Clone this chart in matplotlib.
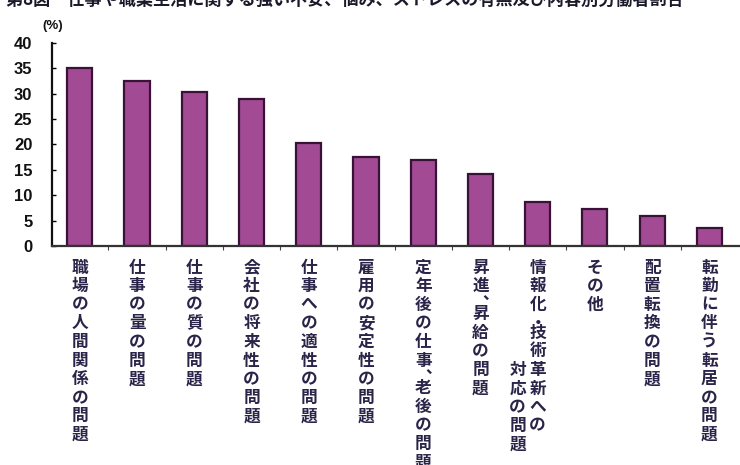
import matplotlib
matplotlib.use("Agg")
import matplotlib.pyplot as plt
import matplotlib.transforms as mtransforms

plt.rcParams['font.family'] = ['Noto Sans CJK JP', 'DejaVu Sans']

# data
categories = [
    ["職場の人間関係の問題"],
    ["仕事の量の問題"],
    ["仕事の質の問題"],
    ["会社の将来性の問題"],
    ["仕事への適性の問題"],
    ["雇用の安定性の問題"],
    ["定年後の仕事︑老後の問題"],
    ["昇進︑昇給の問題"],
    ["情報化・技術革新への", "対応の問題"],
    ["その他"],
    ["配置転換の問題"],
    ["転勤に伴う転居の問題"],
]
values = [35.1, 32.5, 30.4, 28.9, 20.2, 17.6, 16.9, 14.1, 8.6, 7.2, 5.9, 3.6]
yticks = [0, 5, 10, 15, 20, 25, 30, 35, 40]
title = "第8図　仕事や職業生活に関する強い不安、悩み、ストレスの有無及び内容別労働者割合"

bar_color = "#a24b94"
edge_color = "#3a1238"
text_color = "#2a2448"

fig = plt.figure(figsize=(7.4, 4.65), dpi=100)
ax = fig.add_axes([0.070, 0.471, 0.935, 0.437])

x = list(range(len(values)))
ax.bar(x, values, width=0.44, color=bar_color, edgecolor=edge_color, linewidth=1.6)

ax.set_ylim(0, 40)
ax.set_xlim(-0.49, 11.6)
ax.set_yticks(yticks)
ax.set_yticklabels([str(v) for v in yticks], fontsize=12, fontweight="bold",
                   family=["Liberation Sans", "DejaVu Sans"], color="#111111")
ax.tick_params(axis="y", direction="in", length=3, width=1, pad=14)
ax.set_xticks([i + 0.5 for i in x[:-1]])
ax.set_xticklabels([])
ax.tick_params(axis="x", direction="out", length=3, width=0.8, colors="#444444")

for s in ["top", "right"]:
    ax.spines[s].set_visible(False)
ax.spines["left"].set_linewidth(1.6)
ax.spines["left"].set_color("#111111")
ax.spines["bottom"].set_linewidth(1.6)
ax.spines["bottom"].set_color("#333333")

# "(%)" unit label
ax.text(-0.47, 42.2, "(%)", fontsize=9.5, fontweight="bold", color="#111111",
        family=["Liberation Sans", "DejaVu Sans"], ha="center", va="bottom",
        clip_on=False)

# vertical category labels, one glyph at a time (columns right-to-left)
trans = mtransforms.blended_transform_factory(ax.transData, ax.transAxes)
pitch = 13.4      # points between characters
first = 19.1      # points from axis to first baseline
half_width = "︑、・"


def vertical_column(xpos, chars, dx, start):
    y = first + start * pitch
    for ch in chars:
        off = mtransforms.ScaledTranslation(dx / 72, -y / 72, fig.dpi_scale_trans)
        ax.text(xpos, 0, ch, transform=trans + off, ha="center", va="baseline",
                fontsize=12, fontweight="bold", color=text_color, clip_on=False)
        y += pitch * (0.5 if ch in half_width else 1.0)


for i, cols in enumerate(categories):
    for j, col in enumerate(cols):
        vertical_column(i, col, -14.4 * j, 5.5 * j)

# title, cropped at the top edge as in the reference
fig.text(0.008, 1.0, title, ha="left", va="center", fontsize=12.3,
         fontweight="bold", color="#1a1a2a")

fig.savefig("out.png", dpi=100)
